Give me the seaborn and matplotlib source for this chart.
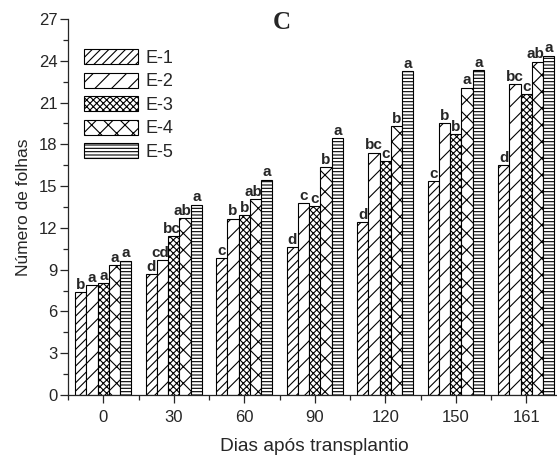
import numpy as np
import pandas as pd
import matplotlib
matplotlib.use("Agg")
import matplotlib.pyplot as plt
import matplotlib.patches as mpatches
import seaborn as sns

# data
days = ["0", "30", "60", "90", "120", "150", "161"]
treatments = ["E-1", "E-2", "E-3", "E-4", "E-5"]
e1 = [7.37, 8.69, 9.83, 10.6, 12.4, 15.38, 16.51]
e2 = [7.9, 9.69, 12.66, 13.78, 17.4, 19.5, 22.33]
e3 = [8.04, 11.39, 12.94, 13.54, 16.77, 18.74, 21.59]
e4 = [9.33, 12.68, 14.07, 16.34, 19.33, 22.07, 23.93]
e5 = [9.64, 13.66, 15.46, 18.42, 23.25, 23.31, 24.36]
letters_e1 = ["b", "d", "c", "d", "d", "c", "d"]
letters_e2 = ["a", "cd", "b", "c", "bc", "b", "bc"]
letters_e3 = ["a", "bc", "b", "c", "c", "b", "c"]
letters_e4 = ["a", "ab", "ab", "b", "b", "a", "ab"]
letters_e5 = ["a", "a", "a", "a", "a", "a", "a"]

series = [e1, e2, e3, e4, e5]
letters = [letters_e1, letters_e2, letters_e3, letters_e4, letters_e5]
hatches = ["////", "//", "xxxxx", "xx", "-----"]

rows = []
for t, vals in zip(treatments, series):
    for d, v in zip(days, vals):
        rows.append({"dia": d, "trat": t, "folhas": v})
df = pd.DataFrame(rows)

sns.set_style("ticks")
plt.rcParams["font.family"] = ["Liberation Sans", "DejaVu Sans"]
plt.rcParams["hatch.linewidth"] = 0.8
plt.rcParams["hatch.color"] = "black"

fig = plt.figure(figsize=(5.57, 4.57), dpi=100)
ax = fig.add_axes([68 / 557, 62 / 457, 493.5 / 557, 376 / 457])

sns.barplot(data=df, x="dia", y="folhas", hue="trat", order=days,
            hue_order=treatments, color="white", edgecolor="black",
            linewidth=0.8, width=0.8, legend=False, ax=ax, errorbar=None)

# hatch each hue level and put the letters on top
bars = ax.patches
n = len(days)
for i, t in enumerate(treatments):
    for j in range(n):
        b = bars[i * n + j]
        b.set_facecolor("white")
        b.set_hatch(hatches[i])
        xc = b.get_x() + b.get_width() / 2
        # two-letter labels squeezed next to a taller neighbour: nudge left
        if len(letters[i][j]) == 2 and i < 4 and series[i + 1][j] > series[i][j]:
            xc -= 0.03
        ax.text(xc, b.get_height() + 0.02, letters[i][j], ha="center",
                va="bottom", fontsize=11, fontweight="bold")

ax.set_xlim(-0.5, 6.5)
ax.set_ylim(0, 27)
ax.set_yticks(np.arange(0, 28, 3))
ax.set_yticks(np.arange(0, 27, 1.5), minor=True)
ax.set_xticks(range(n))
ax.set_xticklabels(days)
ax.set_xticks(np.arange(-0.5, 7, 1), minor=True)
ax.tick_params(axis="both", which="major", labelsize=12, length=5.5,
               width=0.9, direction="out")
ax.tick_params(axis="x", which="major", pad=5)
ax.tick_params(axis="y", which="major", pad=2)
ax.tick_params(axis="both", which="minor", length=3.5, width=0.9,
               direction="out")
for s in ["top", "right"]:
    ax.spines[s].set_visible(False)
for s in ["left", "bottom"]:
    ax.spines[s].set_linewidth(0.9)

ax.set_xlabel("Dias após transplantio", fontsize=13.8, labelpad=10)
ax.set_ylabel("Número de folhas", fontsize=12.5, labelpad=6)

handles = [mpatches.Patch(facecolor="white", edgecolor="black",
                          hatch=h, linewidth=0.8, label=t)
           for h, t in zip(hatches, treatments)]
ax.legend(handles=handles, loc="upper left", bbox_to_anchor=(0.032, 0.92),
          frameon=False, fontsize=13, handlelength=3.0, handleheight=0.9,
          handletextpad=0.4, labelspacing=0.32, borderpad=0, borderaxespad=0)

fig.text(282 / 557, 0.95, "C", ha="center", va="center", fontsize=18,
         fontweight="bold", family=["Liberation Serif", "DejaVu Serif"])

fig.savefig("out.png", dpi=100)
